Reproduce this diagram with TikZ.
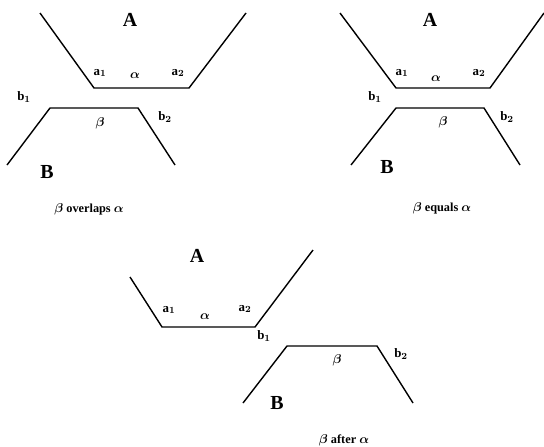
\documentclass[tikz,border=0pt]{standalone}
\usepackage{amsmath}
\usepackage{fontspec}
\setmainfont{Liberation Serif}
\usetikzlibrary{positioning}

\begin{document}
\begin{tikzpicture}[x=0.03cm, y=-0.03cm,
        edge/.style={line width=1.2pt, black},
        big/.style={font=\fontsize{17}{20}\selectfont\bfseries, inner sep=0pt},
        lbl/.style={font=\fontsize{11}{13}\selectfont\bfseries\boldmath, inner sep=0pt},
        captxt/.style={font=\fontsize{10.5}{12}\selectfont\bfseries\boldmath, inner sep=0pt}
    ]
    \useasboundingbox (0,0) rectangle (544,446);

    % Panel 1: overlaps
    \coordinate (p1a1) at (40,13);  \coordinate (p1a2) at (94,88);
    \coordinate (p1a3) at (189,88); \coordinate (p1a4) at (246,13);
    \coordinate (p1b1) at (7,165);  \coordinate (p1b2) at (50,108);
    \coordinate (p1b3) at (138,108); \coordinate (p1b4) at (175,165);
    \draw[edge] (p1a1) -- (p1a2) -- (p1a3) -- (p1a4);
    \draw[edge] (p1b1) -- (p1b2) -- (p1b3) -- (p1b4);
    \node[big] (p1A) at (130,20) {A};
    \node[big] (p1B) at (47,172) {B};
    \node[lbl] (p1al) at (100,73) {a$_{1}$};
    \node[lbl] (p1alpha) at (135,76) {$\alpha$};
    \node[lbl] (p1ar) at (178,73) {a$_{2}$};
    \node[lbl] (p1bl) at (24,97) {b$_{1}$};
    \node[lbl] (p1beta) at (100,123) {$\beta$};
    \node[lbl] (p1br) at (165,117) {b$_{2}$};
    \node[captxt] (p1cap) at (89,209) {$\beta$ overlaps $\alpha$};

    % Panel 2: equals
    \coordinate (p2a1) at (340,13);  \coordinate (p2a2) at (396,88);
    \coordinate (p2a3) at (490,88);  \coordinate (p2a4) at (544,13);
    \coordinate (p2b1) at (351,165); \coordinate (p2b2) at (396,108);
    \coordinate (p2b3) at (484,108); \coordinate (p2b4) at (520,165);
    \draw[edge] (p2a1) -- (p2a2) -- (p2a3) -- (p2a4);
    \draw[edge] (p2b1) -- (p2b2) -- (p2b3) -- (p2b4);
    \node[big] (p2A) at (430,20) {A};
    \node[big] (p2B) at (387,167) {B};
    \node[lbl] (p2al) at (402,73) {a$_{1}$};
    \node[lbl] (p2alpha) at (436,79) {$\alpha$};
    \node[lbl] (p2ar) at (479,73) {a$_{2}$};
    \node[lbl] (p2bl) at (375,97) {b$_{1}$};
    \node[lbl] (p2beta) at (443,122) {$\beta$};
    \node[lbl] (p2br) at (507,117) {b$_{2}$};
    \node[captxt] (p2cap) at (442,208) {$\beta$ equals $\alpha$};

    % Panel 3: after
    \coordinate (p3a1) at (130,277); \coordinate (p3a2) at (162,327);
    \coordinate (p3a3) at (255,327); \coordinate (p3a4) at (313,250);
    \coordinate (p3b1) at (243,403); \coordinate (p3b2) at (287,346);
    \coordinate (p3b3) at (377,346); \coordinate (p3b4) at (413,403);
    \draw[edge] (p3a1) -- (p3a2) -- (p3a3) -- (p3a4);
    \draw[edge] (p3b1) -- (p3b2) -- (p3b3) -- (p3b4);
    \node[big] (p3A) at (197,256) {A};
    \node[big] (p3B) at (277,403) {B};
    \node[lbl] (p3al) at (169,310) {a$_{1}$};
    \node[lbl] (p3alpha) at (205,317) {$\alpha$};
    \node[lbl] (p3ar) at (245,309) {a$_{2}$};
    \node[lbl] (p3bl) at (264,336) {b$_{1}$};
    \node[lbl] (p3beta) at (337,360) {$\beta$};
    \node[lbl] (p3br) at (401,354) {b$_{2}$};
    \node[captxt] (p3cap) at (344,440) {$\beta$ after $\alpha$};
\end{tikzpicture}
\end{document}
